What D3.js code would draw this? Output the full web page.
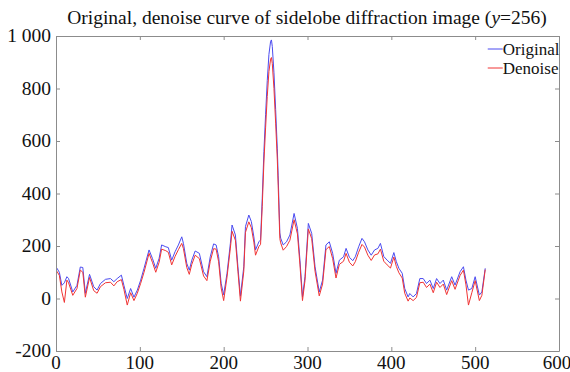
<!DOCTYPE html>
<html>
<head>
<meta charset="utf-8">
<script src="https://cdn.jsdelivr.net/npm/d3@7"></script>
<style>
  body { margin: 0; background: #fff; }
  svg text { font-family: "Liberation Serif", "Times New Roman", serif; fill: #111; }
  .frame line, .frame path { stroke: #8c8c8c; }
</style>
</head>
<body>
<div id="chart"></div>
<script>
// --- data ---
const titleMain = "Original, denoise curve of sidelobe diffraction image (";
const xTicks = [0, 100, 200, 300, 400, 500, 600];
const yTicks = [-200, 0, 200, 400, 600, 800, 1000];
const yTickLabels = ["-200", "0", "200", "400", "600", "800", "1 000"];
const seriesNames = ["Original", "Denoise"];

const pixelX = [1, 4, 7, 10, 13, 15, 20, 25, 29, 32, 35, 40, 45, 49, 53, 59, 65, 69, 73, 78,
  81, 85, 89, 93, 97, 101, 105, 111, 115, 119, 123, 126, 131, 134, 138, 142, 146, 150, 152, 156,
  159, 162, 166, 171, 176, 180, 184, 188, 191, 194, 197, 200, 204, 208, 210, 214, 217, 220, 224, 226,
  230, 233, 236, 238, 242, 244, 246, 248, 250, 252, 254, 256, 257, 258, 260, 262, 264, 265, 267, 268,
  271, 275, 279, 284, 288, 291, 294, 297, 301, 305, 309, 314, 318, 322, 326, 330, 334, 338, 343, 346,
  350, 354, 357, 361, 365, 368, 372, 376, 380, 384, 387, 391, 395, 399, 403, 406, 409, 413, 416, 420,
  422, 426, 430, 434, 438, 442, 446, 450, 454, 458, 462, 466, 472, 476, 482, 486, 489, 492, 496, 500,
  505, 508, 512];

const original = [116, 100, 50, 60, 83, 76, 25, 50, 120, 118, 20, 92, 45, 32, 57, 73, 76, 64, 76, 89,
  50, 0, 38, 5, 32, 70, 115, 185, 153, 115, 153, 204, 197, 194, 146, 178, 204, 235, 210, 134,
  108, 146, 181, 172, 102, 83, 159, 208, 204, 159, 58, 14, 96, 210, 280, 242, 121, 9, 121, 274,
  318, 293, 235, 185, 216, 223, 380, 560, 700, 830, 930, 980, 985, 960, 860, 720, 570, 470, 250, 230,
  204, 216, 242, 324, 267, 146, 6, 83, 286, 248, 121, 25, 70, 204, 216, 172, 96, 146, 159, 191,
  157, 144, 159, 197, 229, 216, 185, 165, 185, 191, 210, 160, 146, 134, 175, 140, 115, 96, 38, 6,
  19, 6, 19, 76, 76, 57, 70, 38, 76, 57, 70, 32, 83, 51, 102, 121, 70, 32, 38, 83,
  13, 25, 115];

const denoise = [104, 88, 25, -15, 70, 60, 12, 38, 108, 100, 5, 80, 30, 20, 45, 60, 62, 48, 64, 72,
  35, -25, 22, -8, 20, 58, 100, 172, 138, 100, 138, 188, 182, 176, 128, 160, 186, 210, 190, 118,
  92, 130, 165, 152, 86, 68, 142, 190, 188, 140, 40, -8, 82, 192, 256, 222, 104, -10, 104, 252,
  292, 270, 215, 165, 198, 206, 350, 520, 650, 770, 865, 912, 918, 895, 800, 668, 528, 430, 228, 212,
  184, 198, 222, 300, 246, 128, -8, 68, 265, 228, 104, 10, 55, 186, 198, 152, 78, 130, 142, 172,
  138, 124, 140, 176, 206, 196, 165, 145, 166, 170, 188, 142, 128, 116, 158, 122, 98, 78, 20, -10,
  2, -8, 4, 60, 62, 42, 55, 22, 62, 42, 55, 15, 68, 35, 88, 108, 52, -25, 22, 68,
  -8, 12, 110];

const W = 570, H = 372;
const margin = { top: 36, right: 11, bottom: 21, left: 56 };
const width = W - margin.left - margin.right;
const height = H - margin.top - margin.bottom;
const serif = "'Liberation Serif', 'Times New Roman', serif";

const svg = d3.select("#chart").append("svg")
  .attr("width", W)
  .attr("height", H);

const x = d3.scaleLinear().domain([0, 600]).range([0, width]);
const y = d3.scaleLinear().domain([-200, 1000]).range([height, 0]);

const g = svg.append("g")
  .attr("transform", `translate(${margin.left},${margin.top})`);

// --- title ---
const title = svg.append("text")
  .attr("x", 307)
  .attr("y", 24)
  .attr("text-anchor", "middle")
  .attr("font-family", serif)
  .style("font-size", "19.5px");
title.append("tspan").text(titleMain);
title.append("tspan").style("font-style", "italic").text("y");
title.append("tspan").text("=256)");

// --- series lines ---
const line = vals => d3.line()
  .x((d, i) => x(pixelX[i]))
  .y(d => y(d))(vals);

g.append("path")
  .attr("d", line(original))
  .attr("fill", "none")
  .attr("stroke", "#4b4bf0")
  .attr("stroke-width", 1);

g.append("path")
  .attr("d", line(denoise))
  .attr("fill", "none")
  .attr("stroke", "#f03434")
  .attr("stroke-width", 1);

// --- frame with inward ticks on all four sides ---
const frame = g.append("g").attr("class", "frame");

frame.append("g")
  .attr("transform", `translate(0,${height})`)
  .call(d3.axisBottom(x).tickValues(xTicks).tickSize(-4).tickFormat(""))
  .call(s => s.select(".domain").attr("d", `M0.5,0.5H${width + 0.5}`));
frame.append("g")
  .call(d3.axisTop(x).tickValues(xTicks).tickSize(-4).tickFormat(""))
  .call(s => s.select(".domain").attr("d", `M0.5,0.5H${width + 0.5}`));
frame.append("g")
  .call(d3.axisLeft(y).tickValues(yTicks).tickSize(-4).tickFormat(""))
  .call(s => s.select(".domain").attr("d", `M0.5,0.5V${height + 0.5}`));
frame.append("g")
  .attr("transform", `translate(${width},0)`)
  .call(d3.axisRight(y).tickValues(yTicks).tickSize(-4).tickFormat(""))
  .call(s => s.select(".domain").attr("d", `M0.5,0.5V${height + 0.5}`));

// tick labels
g.selectAll(".xlab")
  .data(xTicks)
  .enter().append("text")
  .attr("class", "xlab")
  .attr("x", (d, i) => i === xTicks.length - 1 ? x(d) - 2 : x(d))
  .attr("y", height + 18)
  .attr("text-anchor", "middle")
  .attr("font-family", serif)
  .style("font-size", "19px")
  .text(d => d);

g.selectAll(".ylab")
  .data(yTicks)
  .enter().append("text")
  .attr("class", "ylab")
  .attr("x", -5)
  .attr("y", d => y(d) + 6)
  .attr("text-anchor", "end")
  .attr("font-family", serif)
  .style("font-size", "19.5px")
  .text((d, i) => yTickLabels[i]);

// --- legend ---
const legend = g.append("g")
  .attr("transform", `translate(${x(515)},0)`);
const legendColors = ["#4b4bf0", "#f03434"];
seriesNames.forEach((name, i) => {
  const ly = 13 + i * 19;
  legend.append("line")
    .attr("x1", 0).attr("x2", 15)
    .attr("y1", ly).attr("y2", ly)
    .attr("stroke", legendColors[i]);
  legend.append("text")
    .attr("x", 15)
    .attr("y", ly + 6)
    .attr("font-family", serif)
    .style("font-size", "17px")
    .text(name);
});
</script>
</body>
</html>
